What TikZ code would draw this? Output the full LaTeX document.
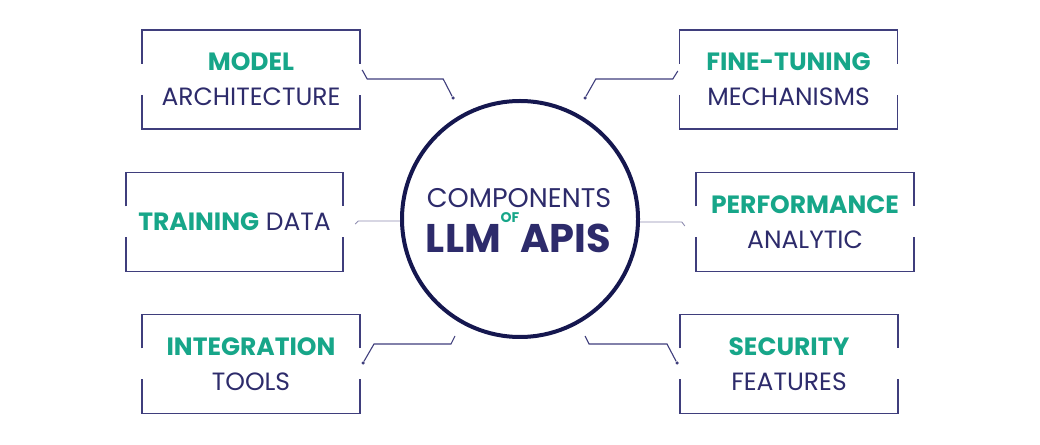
\documentclass[tikz,border=0pt]{standalone}
\usepackage{fontspec}
\setmainfont{Poppins}
\usepackage{xcolor}
\definecolor{navy}{HTML}{2D2B6B}
\definecolor{ring}{HTML}{15174F}
\definecolor{mint}{HTML}{17A689}
\definecolor{edge}{HTML}{3F3E7C}
\definecolor{faint}{HTML}{8E8CB0}
\usepackage{tikz}
\usetikzlibrary{positioning}
\newcommand{\hot}[1]{\textcolor{mint}{\bfseries #1}}
\tikzset{
    topic/.style={
        rectangle, inner sep=0pt,
        minimum width=218pt, minimum height=99pt,
        align=center, text=navy,
        font=\fontsize{25}{35}\selectfont
    },
    gapframe/.style={line width=1.5pt, draw=edge},
    hub/.style={circle, draw=ring, line width=4pt, minimum size=236pt, inner sep=0pt},
    link/.style={line width=1.1pt, draw=edge},
    linkl/.style={line width=0.9pt, draw=faint},
    dot/.style={circle, fill=edge, inner sep=0pt, minimum size=3.5pt},
    hubtxt/.style={inner sep=0pt, text=navy},
}

\begin{document}
\begin{tikzpicture}
            [x=1pt, y=1pt]
            \useasboundingbox (0,0) rectangle (1040,444);
            % Draw centre
            \node[hub] (hub) at (520,225) {};
            \node[hubtxt, font=\fontsize{27}{27}\selectfont] (comp) at (519,246) {COMPONENTS};
            \node[hubtxt, font=\fontsize{40}{40}\selectfont\bfseries, anchor=base east] (llm) at (501,191) {LLM};
            \node[hubtxt, font=\fontsize{40}{40}\selectfont\bfseries, anchor=base west] (apis) at (520,191) {APIS};
            \node[hubtxt, font=\fontsize{14}{14}\selectfont\bfseries, text=mint] (of) at (510,226) {OF};

            % Draw topics
            \node[topic] (model) at (251,364.5) {\hot{MODEL}\\ARCHITECTURE};
            \node[topic] (tune) at (788.5,364.5) {\hot{FINE-TUNING}\\MECHANISMS};
            \node[topic, minimum width=217pt] (train) at (234.5,222) {\hot{TRAINING} DATA};
            \node[topic] (perf) at (805,222) {\hot{PERFORMANCE}\\ANALYTIC};
            \node[topic] (integ) at (251,80) {\hot{INTEGRATION}\\TOOLS};
            \node[topic] (secur) at (789,80) {\hot{SECURITY}\\FEATURES};

            \foreach \b in {model, tune, train, perf, integ, secur} {
                \draw[gapframe] ([yshift=15.5pt]\b.west) |- (\b.north east) -- ([yshift=15.5pt]\b.east);
                \draw[gapframe] ([yshift=-15.5pt]\b.west) |- (\b.south east) -- ([yshift=-15.5pt]\b.east);
            }

            % Draw connectors
            \node[dot] (d1) at (453,346) {};
            \node[dot] (d2) at (585,346) {};
            \node[dot] (d5) at (363,81) {};
            \node[dot] (d6) at (677,81) {};
            \coordinate (e5) at (455,108);
            \coordinate (e6) at (585,108);

            \draw[link] ([shift={(2pt,9.5pt)}]model.east) -- ++(5,-9) -- ++(76,0) -- (d1);
            \draw[link] ([shift={(-1.5pt,8.5pt)}]tune.west) -- ++(-5,-8) -- ++(-77,0) -- (d2);
            \draw[linkl] ([shift={(12pt,-2pt)}]train.east) -- ++(3,3) -- ([yshift=-2pt]hub.west);
            \draw[linkl] ([yshift=-3pt]hub.east) -- ([xshift=-14pt]perf.west) -- ++(3,-4);
            \draw[link] (d5) -- ++(11,19) -- ++(77,0) -- (e5);
            \draw[link] (e6) -- ++(4,-8) -- ++(78,0) -- (d6);

        \end{tikzpicture}
\end{document}
